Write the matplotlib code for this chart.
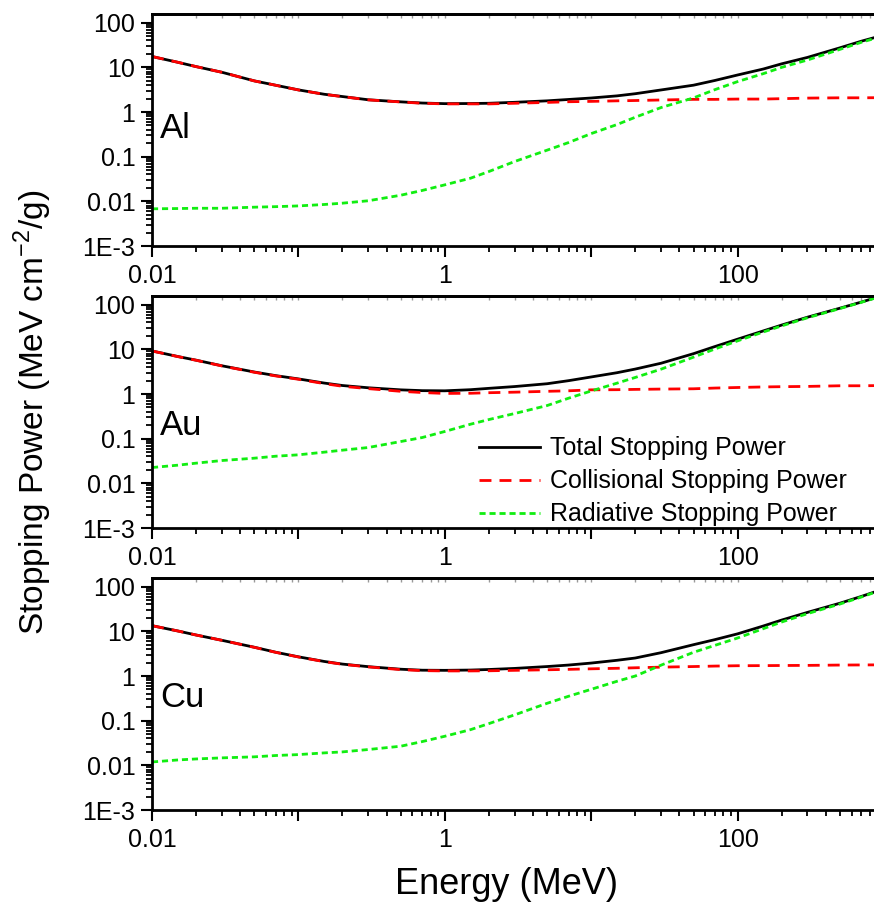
import matplotlib
matplotlib.use("Agg")
import matplotlib.pyplot as plt
from matplotlib.ticker import FixedLocator, FixedFormatter, LogLocator, NullFormatter

plt.rcParams['font.family'] = ['Liberation Sans', 'DejaVu Sans']
plt.rcParams['mathtext.fontset'] = 'custom'
plt.rcParams['mathtext.rm'] = 'Liberation Sans'

# energy grid (MeV)
energy = [0.01, 0.015, 0.02, 0.03, 0.05, 0.07, 0.1, 0.15, 0.2, 0.3, 0.5, 0.7,
          1, 1.5, 2, 3, 5, 7, 10, 15, 20, 30, 50, 70, 100, 150, 200, 300,
          500, 700, 1000]

# stopping powers (MeV cm2/g)
al_col = [17.5, 13.0, 10.4, 7.76, 4.97, 3.97, 3.12, 2.49, 2.21, 1.87, 1.68, 1.57,
          1.52, 1.52, 1.52, 1.57, 1.64, 1.70, 1.73, 1.78, 1.81, 1.86, 1.92, 1.92,
          1.95, 1.95, 1.99, 2.05, 2.08, 2.08, 2.10]
al_rad = [0.0068, 0.0069, 0.0070, 0.0070, 0.0074, 0.0076, 0.0079, 0.0085, 0.0091,
          0.0103, 0.0137, 0.0175, 0.0234, 0.033, 0.0465, 0.078, 0.140, 0.207,
          0.329, 0.524, 0.764, 1.26, 2.07, 3.17, 4.8, 7.24, 10.0, 14.6, 25.3,
          36.4, 51.0]
al_tot = [17.5, 13.0, 10.4, 7.77, 4.98, 3.98, 3.13, 2.50, 2.22, 1.88, 1.69, 1.59,
          1.54, 1.55, 1.57, 1.65, 1.78, 1.91, 2.06, 2.30, 2.57, 3.12, 3.99, 5.09,
          6.75, 9.19, 12.0, 16.7, 27.4, 38.5, 53.1]

au_col = [9.2, 6.89, 5.70, 4.26, 3.07, 2.54, 2.14, 1.71, 1.49, 1.32, 1.15, 1.08,
          1.03, 1.04, 1.07, 1.10, 1.15, 1.18, 1.24, 1.25, 1.27, 1.29, 1.31, 1.36,
          1.40, 1.44, 1.46, 1.48, 1.53, 1.53, 1.55]
au_rad = [0.0226, 0.0255, 0.0283, 0.0324, 0.0366, 0.0405, 0.0435, 0.0499, 0.0553,
          0.0634, 0.0863, 0.106, 0.145, 0.211, 0.268, 0.366, 0.552, 0.805, 1.17,
          1.75, 2.35, 3.6, 6.7, 10.2, 15.5, 24.5, 33.5, 51.0, 82.0, 113.0, 162.0]
au_tot = [9.22, 6.92, 5.73, 4.29, 3.11, 2.58, 2.18, 1.76, 1.55, 1.38, 1.24, 1.19,
          1.18, 1.25, 1.34, 1.47, 1.70, 1.99, 2.41, 3.00, 3.62, 4.89, 8.01, 11.56,
          16.9, 25.9, 35.0, 52.5, 83.5, 114.5, 163.5]

cu_col = [13.4, 10.2, 8.28, 6.30, 4.39, 3.39, 2.67, 2.10, 1.83, 1.60, 1.39, 1.32,
          1.30, 1.30, 1.31, 1.34, 1.38, 1.41, 1.45, 1.49, 1.53, 1.58, 1.63, 1.67,
          1.70, 1.71, 1.72, 1.73, 1.76, 1.77, 1.78]
cu_rad = [0.0119, 0.0132, 0.0139, 0.0147, 0.0155, 0.0166, 0.0174, 0.0190, 0.0200,
          0.0226, 0.0268, 0.034, 0.0448, 0.063, 0.086, 0.135, 0.245, 0.352, 0.504,
          0.762, 1.0, 1.75, 3.4, 4.86, 7.1, 11.5, 16.2, 24.9, 40.9, 58.7, 88.0]
cu_tot = [13.41, 10.21, 8.29, 6.31, 4.41, 3.41, 2.69, 2.12, 1.85, 1.62, 1.42, 1.35,
          1.34, 1.36, 1.40, 1.48, 1.63, 1.76, 1.95, 2.25, 2.53, 3.33, 5.03, 6.53,
          8.8, 13.2, 17.9, 26.6, 42.7, 60.5, 89.8]

panels = [('Al', al_tot, al_col, al_rad, 0.505),
          ('Au', au_tot, au_col, au_rad, 0.44),
          ('Cu', cu_tot, cu_col, cu_rad, 0.485)]

ytick_vals = [1e-3, 0.01, 0.1, 1, 10, 100]
ytick_labels = ['1E-3', '0.01', '0.1', '1', '10', '100']
xtick_vals = [0.01, 0.1, 1, 10, 100, 1000]
xtick_labels = ['0.01', '', '1', '', '100', '']

fig = plt.figure(figsize=(8.74, 9.06), dpi=100)
W, H = 874.0, 906.0
tops = [14, 296, 578]

for k, (name, tot, col, rad, ylab) in enumerate(panels):
    top = tops[k]
    ax = fig.add_axes([152 / W, 1 - (top + 232) / H, 732 / W, 232 / H])
    ax.plot(energy, tot, color='black', lw=2.0, label='Total Stopping Power')
    ax.plot(energy, col, color='#ff0000', lw=2.0, dashes=(4.3, 2.9),
            label='Collisional Stopping Power')
    ax.plot(energy, rad, color='#11ee11', lw=2.0, dashes=(2.2, 1.4),
            label='Radiative Stopping Power')
    ax.set_xscale('log')
    ax.set_yscale('log')
    ax.set_xlim(0.01, 1000)
    ax.set_ylim(1e-3, 156.6)

    ax.yaxis.set_major_locator(FixedLocator(ytick_vals))
    ax.yaxis.set_major_formatter(FixedFormatter(ytick_labels))
    ax.yaxis.set_minor_locator(LogLocator(base=10, subs=range(2, 10), numticks=20))
    ax.yaxis.set_minor_formatter(NullFormatter())
    ax.xaxis.set_major_locator(FixedLocator(xtick_vals))
    ax.xaxis.set_major_formatter(FixedFormatter(xtick_labels))
    ax.xaxis.set_minor_locator(LogLocator(base=10, subs=range(2, 10), numticks=20))
    ax.xaxis.set_minor_formatter(NullFormatter())

    ax.tick_params(which='major', direction='out', length=8, width=1.5,
                   labelsize=18, pad=4)
    ax.tick_params(which='minor', direction='out', length=4.5, width=1.3)
    ax.tick_params(axis='x', which='major', pad=5)
    for sp in ax.spines.values():
        sp.set_linewidth(2.0)

    # faint inward ticks on the top edge
    sec = ax.secondary_xaxis('top')
    sec.xaxis.set_major_locator(FixedLocator(xtick_vals))
    sec.xaxis.set_minor_locator(LogLocator(base=10, subs=range(2, 10), numticks=20))
    sec.xaxis.set_major_formatter(NullFormatter())
    sec.xaxis.set_minor_formatter(NullFormatter())
    sec.tick_params(which='both', direction='in', length=3, width=1.0, color='0.6')
    sec.spines['top'].set_linewidth(2.0)

    ax.text(0.011, ylab, name, transform=ax.transAxes, fontsize=25,
            ha='left', va='center')

    if name == 'Au':
        ax.legend(loc='upper left', bbox_to_anchor=(0.447, 0.395), frameon=False,
                  fontsize=18, handlelength=2.45, handletextpad=0.4,
                  labelspacing=0.36, borderpad=0, borderaxespad=0)

fig.text(507 / W, 1 - 884 / H, 'Energy (MeV)', ha='center', va='center',
         fontsize=26)
fig.text(33 / W, 1 - 412 / H, r'Stopping Power (MeV cm$^{\mathregular{-2}}$/g)',
         rotation=90, ha='center', va='center', fontsize=24)

fig.savefig('out.png', dpi=100)
